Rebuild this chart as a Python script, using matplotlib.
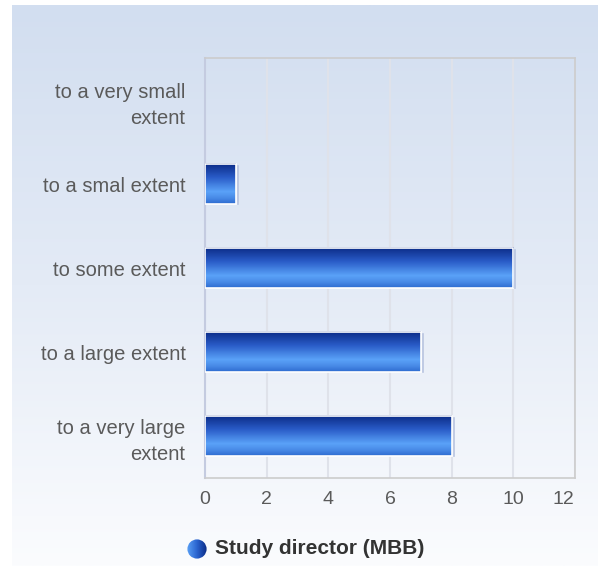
import matplotlib.pyplot as plt
import numpy as np
from matplotlib.colors import LinearSegmentedColormap
from matplotlib.patches import Circle
from matplotlib.transforms import ScaledTranslation

categories = ["to a very small\nextent", "to a smal extent", "to some extent",
              "to a large extent", "to a very large\nextent"]
values = [0, 1, 10, 7, 8]
series_name = "Study director (MBB)"

plt.rcParams['font.family'] = ['Liberation Sans', 'DejaVu Sans']

fig = plt.figure(figsize=(5.98, 5.66), dpi=100)

# panel background gradient
bg = fig.add_axes([12 / 598, 0, 1 - 12 / 598, 1 - 5 / 566], zorder=0)
bg_cmap = LinearSegmentedColormap.from_list("bg", ["#d2def0", "#e4ebf6", "#fbfcfe"])
bg.imshow(np.linspace(0, 1, 256).reshape(-1, 1), aspect='auto', cmap=bg_cmap,
          extent=[0, 1, 0, 1])
bg.axis('off')

ax = fig.add_axes([205 / 598, 1 - 478 / 566, 370 / 598, 420 / 566], zorder=1)
ax.patch.set_alpha(0)

bar_cmap = LinearSegmentedColormap.from_list(
    "bar", [(0, "#0b2b86"), (0.35, "#2a5cc8"), (0.7, "#5aa2f8"), (0.85, "#4a8ce8"), (1, "#2e6cd0")])
grad = np.linspace(0, 1, 64).reshape(-1, 1)

h = 0.48
y = np.arange(len(categories))
for yi, v in zip(y, values):
    if v <= 0:
        continue
    ax.imshow(grad, aspect='auto', cmap=bar_cmap,
              extent=[0, v, yi + h / 2, yi - h / 2], zorder=3)
    ax.barh(yi, v, height=h, color='none', edgecolor='white', linewidth=1.2, zorder=4)
    ax.plot([v + 0.06, v + 0.06], [yi - h / 2 + 0.02, yi + h / 2], color='#b8c4e0', lw=1.2, zorder=2)

ax.set_xlim(0, 12)
ax.set_ylim(len(categories) - 0.5, -0.5)
ax.set_xticks(range(0, 13, 2))
ax.set_yticks(y)
ax.set_yticklabels(categories, fontsize=14.5, color='#5a5a5a', linespacing=1.45)
ax.tick_params(axis='x', labelsize=14, labelcolor='#5a5a5a', length=0, pad=9)
ax.tick_params(axis='y', length=0, pad=14)
# last x label pulled inside the panel
last = ax.get_xticklabels()[-1]
last.set_transform(last.get_transform() + ScaledTranslation(-12 / 100, 0, fig.dpi_scale_trans))
ax.grid(axis='x', color='#dfe2ea', lw=1.5, zorder=1)
ax.set_axisbelow(True)
for side in ['top', 'right', 'bottom']:
    ax.spines[side].set_color('#cccccc')
    ax.spines[side].set_linewidth(1.2)
ax.spines['left'].set_color('#c4cbe0')
ax.spines['left'].set_linewidth(1.5)

# legend: gradient circle + bold label
lax = fig.add_axes([187 / 598, 1 - 559 / 566, 20 / 598, 20 / 566], zorder=2)
leg_cmap = LinearSegmentedColormap.from_list("leg", ["#5aa0f5", "#2a64d0", "#0b2b86"])
im = lax.imshow(np.linspace(0, 1, 64).reshape(1, -1), aspect='auto', cmap=leg_cmap,
                extent=[0, 1, 0, 1])
circ = Circle((0.5, 0.5), 0.48, transform=lax.transData)
im.set_clip_path(circ)
lax.set_xlim(0, 1)
lax.set_ylim(0, 1)
lax.axis('off')
fig.text(215 / 598, 1 - 549 / 566, series_name, fontsize=15, fontweight='bold',
         color='#333333', va='center', ha='left')

fig.savefig("out.png", dpi=100)
